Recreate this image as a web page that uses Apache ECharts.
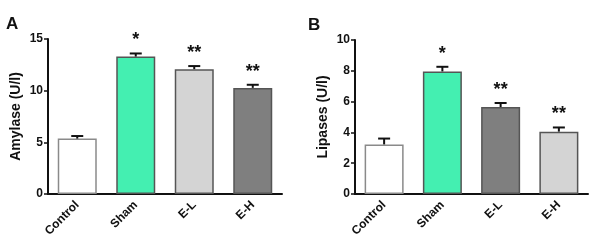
<!DOCTYPE html>
<html>
<head>
<meta charset="utf-8">
<script src="https://cdn.jsdelivr.net/npm/echarts@6/dist/echarts.min.js"></script>
<style>
  html, body { margin: 0; padding: 0; background: #fff; }
  #chart { width: 601px; height: 252px; }
</style>
</head>
<body>
<div id="chart"></div>
<script>
const groups = ['Control', 'Sham', 'E-L', 'E-H']

// panel A: amylase
const amylaseMean = [5.36, 13.3, 12.08, 10.27]
const amylaseErr = [0.25, 0.3, 0.3, 0.3]
const amylaseStars = ['', '*', '**', '**']
const amylaseColors = ['#ffffff', '#44efb1', '#d4d4d4', '#7f7f7f']
const amylaseTicks = [0, 5, 10, 15]

// panel B: lipases
const lipaseMean = [3.22, 7.96, 5.65, 4.05]
const lipaseErr = [0.38, 0.3, 0.26, 0.27]
const lipaseStars = ['', '*', '**', '**']
const lipaseColors = ['#ffffff', '#44efb1', '#7f7f7f', '#d4d4d4']
const lipaseTicks = [0, 2, 4, 6, 8, 10]

const font = 'Liberation Sans, Arial, sans-serif'

const chart = echarts.init(document.getElementById('chart'))

const barBorder = (i) => (i === 0 ? '#8a8a8a' : '#555555')

const makeBars = (means, colors, idx) => ({
  type: 'bar',
  xAxisIndex: idx,
  yAxisIndex: idx,
  barWidth: 39,
  data: means.map((v, i) => ({
    value: v,
    itemStyle: { color: colors[i], borderColor: barBorder(i), borderWidth: 1.5 }
  })),
  z: 2
})

// upper error bar + significance stars
const makeErrors = (means, errs, stars, idx) => ({
  type: 'custom',
  xAxisIndex: idx,
  yAxisIndex: idx,
  data: means.map((v, i) => [i, v, v + errs[i]]),
  renderItem: (params, api) => {
    const base = api.coord([api.value(0), api.value(1)])
    const top = api.coord([api.value(0), api.value(2)])
    const capHalf = 6
    return {
      type: 'group',
      children: [
        {
          type: 'line',
          shape: { x1: base[0], y1: base[1], x2: top[0], y2: top[1] },
          style: { stroke: '#111', lineWidth: 2 }
        },
        {
          type: 'line',
          shape: { x1: top[0] - capHalf, y1: top[1], x2: top[0] + capHalf, y2: top[1] },
          style: { stroke: '#111', lineWidth: 2 }
        },
        {
          type: 'text',
          style: {
            text: stars[params.dataIndex],
            x: top[0],
            y: top[1] - 4,
            align: 'center',
            verticalAlign: 'bottom',
            fontSize: 18,
            fontWeight: 'bold',
            fontFamily: font,
            fill: '#111'
          }
        }
      ]
    }
  },
  z: 3
})

const xAxisBase = (idx) => ({
  type: 'category',
  gridIndex: idx,
  data: groups,
  axisLine: { lineStyle: { color: '#111', width: 2 } },
  axisTick: { alignWithLabel: true, length: 4, lineStyle: { color: '#111', width: 1.5 } },
  axisLabel: {
    rotate: 45,
    color: '#111',
    fontWeight: 'bold',
    fontSize: 12,
    fontFamily: font,
    margin: 9
  }
})

const yAxisBase = (idx, ticks, name) => ({
  type: 'value',
  gridIndex: idx,
  min: ticks[0],
  max: ticks[ticks.length - 1],
  interval: ticks[1] - ticks[0],
  name: name,
  nameLocation: 'middle',
  nameGap: 25,
  nameTextStyle: { color: '#111', fontWeight: 'bold', fontSize: 14, fontFamily: font },
  splitLine: { show: false },
  axisLine: { show: true, lineStyle: { color: '#111', width: 2 } },
  axisTick: { show: true, length: 4, lineStyle: { color: '#111', width: 1.5 } },
  axisLabel: { color: '#111', fontWeight: 'bold', fontSize: 12, fontFamily: font, margin: 5 }
})

const option = {
  animation: false,
  backgroundColor: '#ffffff',
  title: [
    { text: 'A', left: 1, top: 11, textStyle: { fontSize: 17, fontWeight: 'bold', fontFamily: font, color: '#111' } },
    { text: 'B', left: 303, top: 12, textStyle: { fontSize: 17, fontWeight: 'bold', fontFamily: font, color: '#111' } }
  ],
  grid: [
    { left: 48, right: 319, top: 39, bottom: 58 },
    { left: 355, right: 13, top: 40, bottom: 58 }
  ],
  xAxis: [xAxisBase(0), xAxisBase(1)],
  yAxis: [yAxisBase(0, amylaseTicks, 'Amylase (U/l)'), yAxisBase(1, lipaseTicks, 'Lipases (U/l)')],
  series: [
    makeBars(amylaseMean, amylaseColors, 0),
    makeErrors(amylaseMean, amylaseErr, amylaseStars, 0),
    makeBars(lipaseMean, lipaseColors, 1),
    makeErrors(lipaseMean, lipaseErr, lipaseStars, 1)
  ]
}

chart.setOption(option)
</script>
</body>
</html>
